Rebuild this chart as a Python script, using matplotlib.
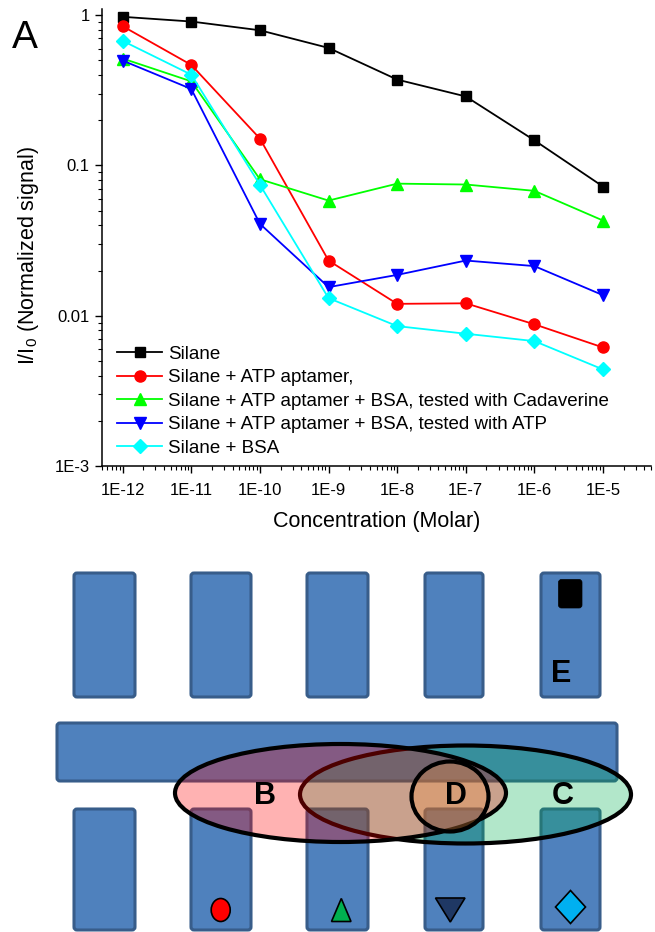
import numpy as np
import matplotlib
matplotlib.use('Agg')
import matplotlib.pyplot as plt
from matplotlib import ticker
from matplotlib.patches import Ellipse, FancyBboxPatch, Polygon

plt.rcParams['font.family'] = ['Liberation Sans', 'DejaVu Sans']
plt.rcParams['mathtext.default'] = 'regular'

# ---- data ----
conc = [1e-12, 1e-11, 1e-10, 1e-9, 1e-8, 1e-7, 1e-6, 1e-5]
x_ticklabels = ['1E-12', '1E-11', '1E-10', '1E-9', '1E-8', '1E-7', '1E-6', '1E-5']
y_ticks = [1e-3, 1e-2, 1e-1, 1]
y_ticklabels = ['1E-3', '0.01', '0.1', '1']

silane = [0.976, 0.908, 0.794, 0.606, 0.373, 0.288, 0.147, 0.0724]
silane_atp = [0.845, 0.467, 0.151, 0.0233, 0.0120, 0.0121, 0.00877, 0.00615]
atp_bsa_cad = [0.515, 0.363, 0.081, 0.0584, 0.0757, 0.0747, 0.0678, 0.0430]
atp_bsa_atp = [0.499, 0.323, 0.0409, 0.0155, 0.0187, 0.0233, 0.0214, 0.0137]
silane_bsa = [0.675, 0.402, 0.0744, 0.0131, 0.00853, 0.00759, 0.00678, 0.00439]

labels = ['Silane',
          'Silane + ATP aptamer,',
          'Silane + ATP aptamer + BSA, tested with Cadaverine',
          'Silane + ATP aptamer + BSA, tested with ATP',
          'Silane + BSA']
series = [silane, silane_atp, atp_bsa_cad, atp_bsa_atp, silane_bsa]
colors = ['black', '#ff0000', '#00ff00', '#0000ff', '#00ffff']
markers = ['s', 'o', '^', 'v', 'D']
msizes = [7.5, 8, 8.5, 8.5, 7]

W, H = 655, 932
fig = plt.figure(figsize=(W / 100, H / 100), dpi=100)

# ---- panel A: the chart ----
ax = fig.add_axes([102 / W, 1 - 466 / H, 549 / W, 457 / H])
for vals, lab, c, m, ms in zip(series, labels, colors, markers, msizes):
    ax.plot(conc, vals, color=c, marker=m, markersize=ms, lw=1.3,
            markeredgecolor=c, label=lab)

ax.set_xscale('log')
ax.set_yscale('log')
ax.set_xlim(5e-13, 5e-5)
ax.set_ylim(1e-3, 1.1)
ax.set_xticks(conc)
ax.set_xticklabels(x_ticklabels)
ax.set_yticks(y_ticks)
ax.set_yticklabels(y_ticklabels)
ax.xaxis.set_minor_locator(ticker.LogLocator(base=10, subs=np.arange(2, 10), numticks=50))
ax.yaxis.set_minor_locator(ticker.LogLocator(base=10, subs=np.arange(2, 10), numticks=50))
ax.xaxis.set_minor_formatter(ticker.NullFormatter())
ax.yaxis.set_minor_formatter(ticker.NullFormatter())
ax.tick_params(which='major', direction='out', length=5, width=1, labelsize=12)
ax.tick_params(axis='x', which='major', pad=7.5)
ax.tick_params(axis='y', which='major', pad=4)
ax.tick_params(which='minor', direction='out', length=3, width=0.8)
for s in ['top', 'right']:
    ax.spines[s].set_visible(False)
for s in ['left', 'bottom']:
    ax.spines[s].set_linewidth(1.1)

ax.set_xlabel('Concentration (Molar)', fontsize=15.5, labelpad=9)
ax.set_ylabel('I/I$_0$ (Normalized signal)', fontsize=15.5)
ax.yaxis.set_label_coords(-0.112, 0.46)

ax.legend(loc='lower left', bbox_to_anchor=(0.028, 0.02), frameon=False,
          fontsize=13.5, handlelength=2.4, handletextpad=0.3,
          labelspacing=0.34, borderpad=0, borderaxespad=0)

fig.text(12 / W, 1 - 48 / H, 'A', fontsize=28, va='baseline', ha='left')

# ---- bottom schematic, drawn in pixel units ----
dx = fig.add_axes([0, 0, 1, 1], zorder=-1)
dx.set_xlim(0, W)
dx.set_ylim(H, 0)
dx.axis('off')

rect_face = '#4f81bd'
rect_edge = '#385d8a'
col_left = [74, 191, 307, 425, 541]
col_width = [61, 60, 61, 58, 59]

def box(x0, y0, w, h, fc=rect_face, ec=rect_edge, lw=2.2, z=1):
    p = FancyBboxPatch((x0, y0), w, h, boxstyle='round,pad=0,rounding_size=3',
                       fc=fc, ec=ec, lw=lw, zorder=z)
    dx.add_patch(p)

for xl, w in zip(col_left, col_width):
    box(xl, 573, w, 124)          # top row
    box(xl, 809, w, 121)          # bottom row
box(57, 723, 560, 58)             # horizontal bar

# overlapping regions C, B, D
dx.add_patch(Ellipse((465.5, 794.5), 331, 98, fc=(0, 176 / 255, 80 / 255, 0.3),
                     ec='black', lw=3, zorder=3))
dx.add_patch(Ellipse((340.5, 793), 331, 98, fc=(1, 0, 0, 0.3),
                     ec='black', lw=3, zorder=4))
dx.add_patch(Ellipse((450, 796.5), 77, 70, fc=(247 / 255, 150 / 255, 70 / 255, 0.3),
                     ec='black', lw=3, zorder=5))

for txt, (tx, ty) in zip(['B', 'D', 'C', 'E'],
                         [(265, 796), (456, 796), (562.5, 796), (561, 674)]):
    dx.text(tx, ty, txt, fontsize=22, fontweight='bold', ha='center',
            va='center', zorder=6)

# symbols in the channels
box(558.5, 579.5, 23.5, 28.5, fc='black', ec='black', lw=0.5, z=6)
dx.add_patch(Ellipse((220.7, 910), 19, 23, fc='#ff0000', ec='black', lw=1.2, zorder=6))
dx.add_patch(Polygon([(331.5, 921.5), (351, 921.5), (341.3, 898.5)], closed=True,
                     fc='#00b050', ec='black', lw=1.2, zorder=6))
dx.add_patch(Polygon([(435.5, 898), (465, 898), (450.3, 922)], closed=True,
                     fc='#1f3864', ec='black', lw=1.2, zorder=6))
dx.add_patch(Polygon([(570.5, 890.5), (585.5, 907), (570.5, 923.5), (555.5, 907)],
                     closed=True, fc='#00b0f0', ec='black', lw=1.2, zorder=6))

fig.savefig('out.png', dpi=100)
